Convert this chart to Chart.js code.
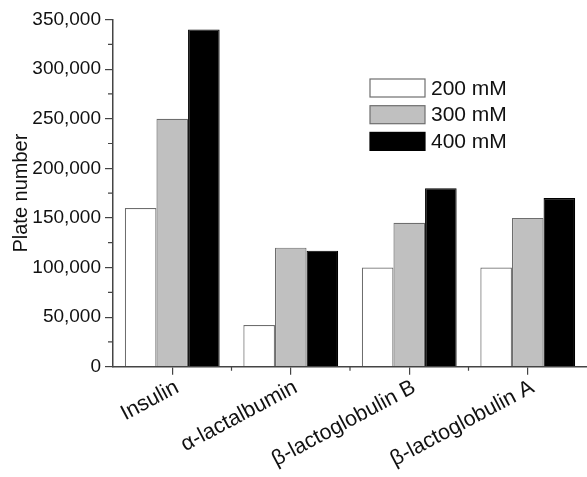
<!DOCTYPE html>
<html>
<head>
<meta charset="utf-8">
<script src="https://cdn.jsdelivr.net/npm/chart.js@4/dist/chart.umd.min.js"></script>
<style>
  html, body { margin: 0; padding: 0; background: #fff; }
  #wrap { width: 587px; height: 477px; }
</style>
</head>
<body>
<div id="wrap"><canvas id="myChart" width="587" height="477"></canvas></div>
<script>
// proteins on the x axis
const categories = ['Insulin', 'α-lactalbumin', 'β-lactoglobulin B', 'β-lactoglobulin A'];
// plate number per salt concentration
const series200 = [160000, 42000, 100000, 100000];
const series300 = [250000, 120000, 145000, 150000];
const series400 = [340000, 117000, 180000, 170000];
const seriesLabels = ['200 mM', '300 mM', '400 mM'];
const yTicks = [0, 50000, 100000, 150000, 200000, 250000, 300000, 350000];

const axisColor = '#444';
const font = 'Liberation Sans, Arial, sans-serif';

// minor ticks (Chart.js has none) + the boxed legend inside the plot
const extras = {
  id: 'extras',
  afterDraw(chart) {
    const ctx = chart.ctx;
    const x = chart.scales.x, y = chart.scales.y;
    ctx.save();
    ctx.strokeStyle = axisColor;
    ctx.lineWidth = 1.2;
    ctx.beginPath();
    for (let i = 0; i < yTicks.length - 1; i++) {
      const py = y.getPixelForValue((yTicks[i] + yTicks[i + 1]) / 2);
      ctx.moveTo(x.left - 5, py);
      ctx.lineTo(x.left, py);
    }
    for (let i = 0; i < categories.length - 1; i++) {
      const px = (x.getPixelForTick(i) + x.getPixelForTick(i + 1)) / 2;
      ctx.moveTo(px, y.bottom);
      ctx.lineTo(px, y.bottom + 4);
    }
    ctx.stroke();

    // legend
    const ds = chart.data.datasets;
    ctx.font = '21px ' + font;
    ctx.textBaseline = 'middle';
    ds.forEach((d, i) => {
      const top = 79 + i * 26.7;
      ctx.fillStyle = d.backgroundColor;
      ctx.fillRect(370, top, 55, 18);
      ctx.strokeStyle = d.borderColor;
      ctx.lineWidth = 1.2;
      ctx.strokeRect(370, top, 55, 18);
      ctx.fillStyle = '#111';
      ctx.fillText(d.label, 431, top + 10);
    });
    ctx.restore();
  }
};

const ctx = document.getElementById('myChart').getContext('2d');
const chart = new Chart(ctx, {
  type: 'bar',
  data: {
    labels: categories,
    datasets: [
      { label: seriesLabels[0], data: series200, backgroundColor: '#ffffff', borderColor: '#6e6e6e', borderWidth: 1.2 },
      { label: seriesLabels[1], data: series300, backgroundColor: '#c0c0c0', borderColor: '#6e6e6e', borderWidth: 1.2 },
      { label: seriesLabels[2], data: series400, backgroundColor: '#000000', borderColor: '#000000', borderWidth: 1.2 }
    ]
  },
  options: {
    responsive: false,
    animation: false,
    layout: { padding: { top: 19.5, right: 0, left: 0, bottom: 0 } },
    datasets: { bar: { categoryPercentage: 0.8, barPercentage: 1.0 } },
    plugins: { legend: { display: false }, tooltip: { enabled: false } },
    scales: {
      x: {
        offset: true,
        grid: { offset: false, drawOnChartArea: false, drawTicks: true, tickLength: 8, color: axisColor, lineWidth: 1.2 },
        border: { display: true, color: axisColor, width: 1.5 },
        ticks: { color: '#111', font: { family: font, size: 21.5 }, minRotation: 28, maxRotation: 28, padding: 0, labelOffset: 5 },
        afterFit(scale) { scale.height = 110.3; }
      },
      y: {
        min: 0,
        max: 350000,
        grid: { drawOnChartArea: false, drawTicks: true, tickLength: 8, color: axisColor, lineWidth: 1.2 },
        border: { display: true, color: axisColor, width: 1.5 },
        ticks: {
          stepSize: 50000,
          color: '#111',
          padding: 4,
          font: { family: font, size: 19 },
          callback: v => v.toLocaleString('en-US')
        },
        title: { display: true, text: 'Plate number', color: '#111', font: { family: font, size: 20 }, padding: { top: 9, bottom: 2 } },
        afterFit(scale) { scale.width = 113; }
      }
    }
  },
  plugins: [extras]
});
</script>
</body>
</html>
